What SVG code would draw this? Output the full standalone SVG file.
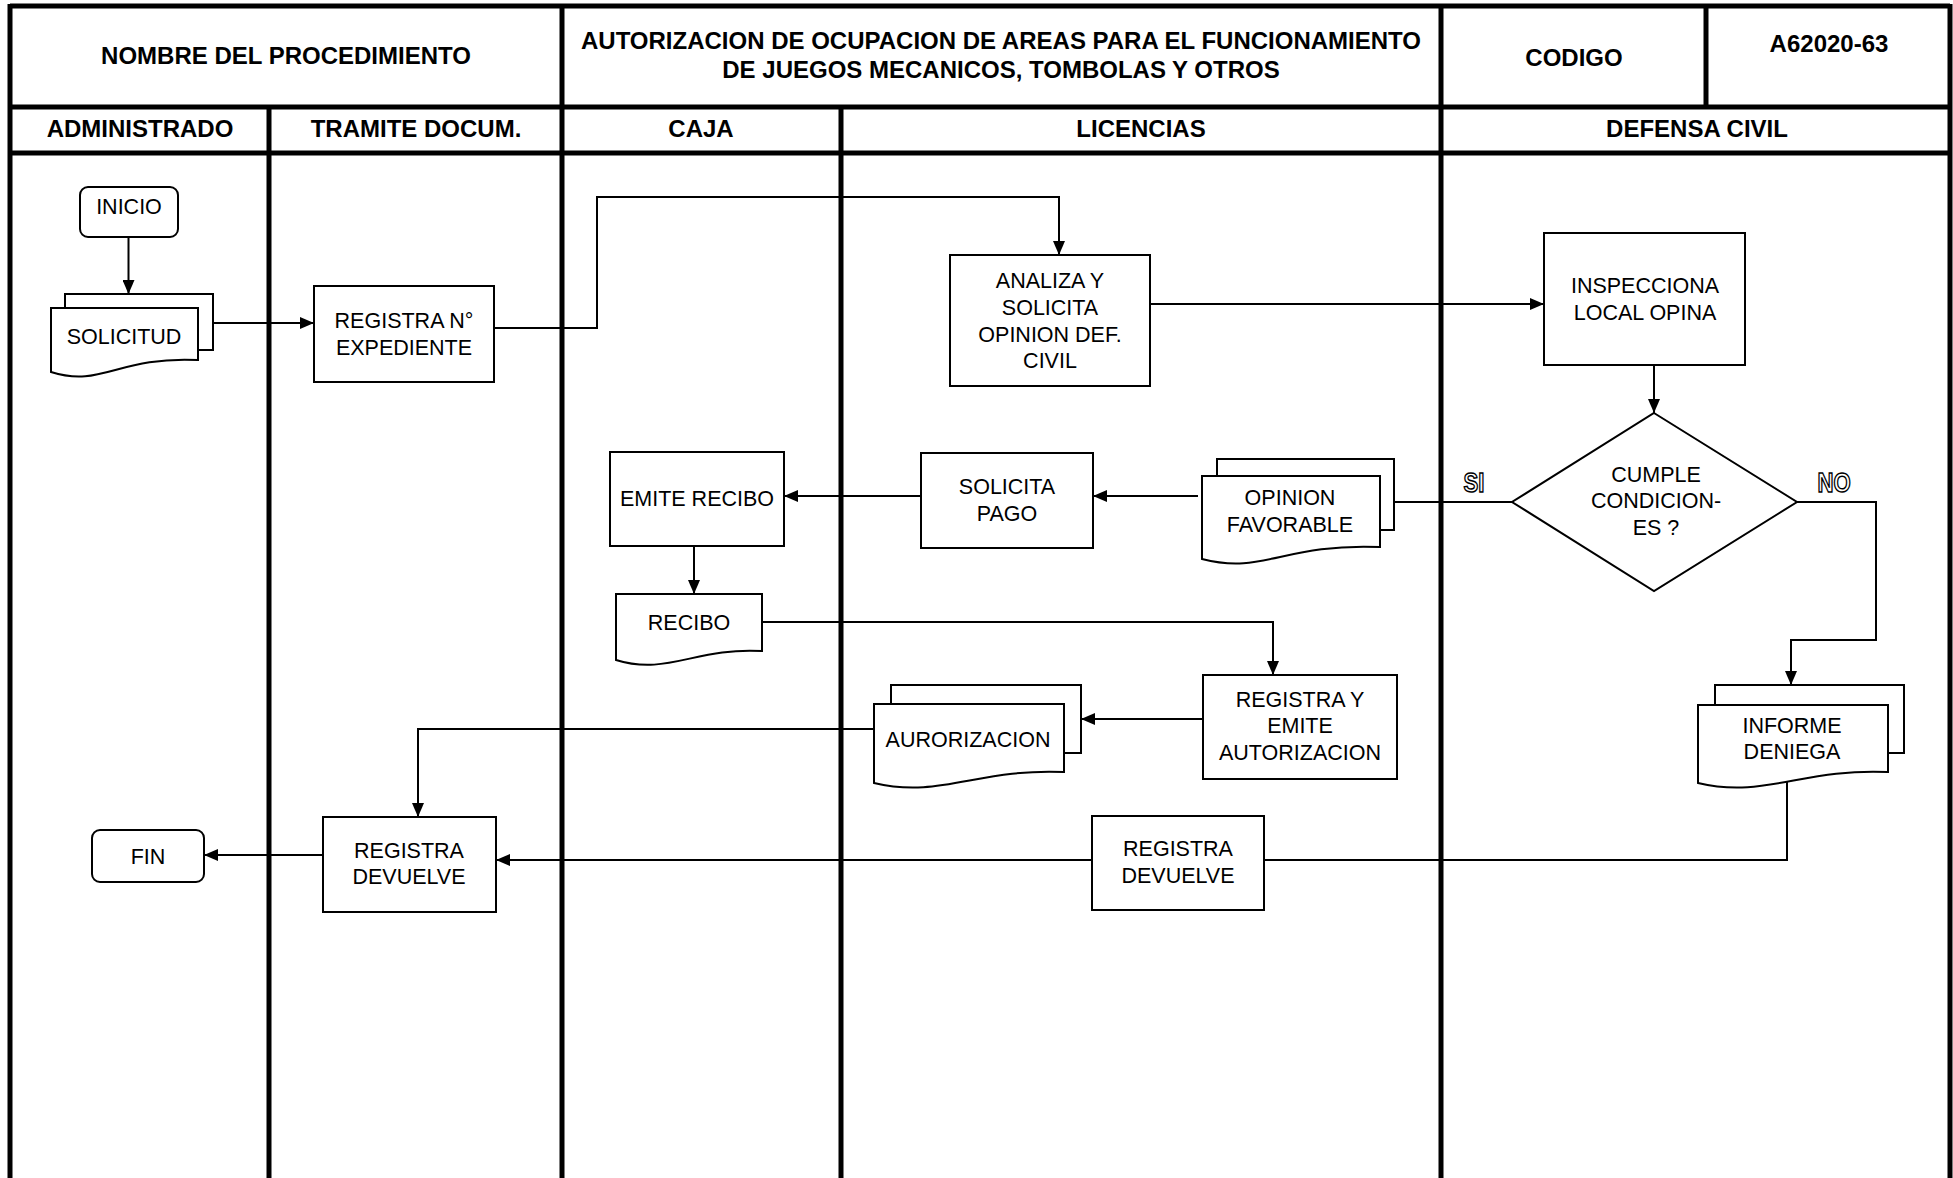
<svg xmlns="http://www.w3.org/2000/svg" width="1953" height="1178" viewBox="0 0 1953 1178">
<style>
.frame{stroke:#000;stroke-width:5;fill:none}
.box{fill:#fff;stroke:#000;stroke-width:2}
.conn{fill:none;stroke:#000;stroke-width:2}
.hd{font-family:"Liberation Sans",Arial,sans-serif;font-weight:bold;font-size:24px;text-anchor:middle;fill:#000}
.t{font-family:"Liberation Sans",Arial,sans-serif;font-size:21.5px;text-anchor:middle;fill:#000}
.lbl{font-family:"Liberation Sans",Arial,sans-serif;font-weight:bold;font-size:27px;text-anchor:middle;fill:#fff;stroke:#000;stroke-width:1.5}
</style>
<defs>
<marker id="arr" markerUnits="userSpaceOnUse" markerWidth="14" markerHeight="12" refX="14" refY="6" orient="auto">
<path d="M0,0 L14,6 L0,12 Z" fill="#000"/>
</marker>
</defs>
<rect width="1953" height="1178" fill="#fff"/>
<g id="frame">
<line class="frame" x1="10" y1="6" x2="1950" y2="6"/>
<line class="frame" x1="10" y1="107" x2="1950" y2="107"/>
<line class="frame" x1="10" y1="153" x2="1950" y2="153"/>
<line class="frame" x1="10" y1="4" x2="10" y2="1178"/>
<line class="frame" x1="1950" y1="4" x2="1950" y2="1178"/>
<line class="frame" x1="562" y1="4" x2="562" y2="1178"/>
<line class="frame" x1="1441" y1="4" x2="1441" y2="1178"/>
<line class="frame" x1="1706" y1="4" x2="1706" y2="107"/>
<line class="frame" x1="269" y1="107" x2="269" y2="1178"/>
<line class="frame" x1="841" y1="107" x2="841" y2="1178"/>
<text class="hd" x="286" y="64">NOMBRE DEL PROCEDIMIENTO</text>
<text class="hd" x="1001" y="49">AUTORIZACION DE OCUPACION DE AREAS PARA EL FUNCIONAMIENTO</text>
<text class="hd" x="1001" y="78">DE JUEGOS MECANICOS, TOMBOLAS Y OTROS</text>
<text class="hd" x="1574" y="66">CODIGO</text>
<text class="hd" x="1829" y="52">A62020-63</text>
<text class="hd" x="140" y="137">ADMINISTRADO</text>
<text class="hd" x="416" y="137">TRAMITE DOCUM.</text>
<text class="hd" x="701" y="137">CAJA</text>
<text class="hd" x="1141" y="137">LICENCIAS</text>
<text class="hd" x="1697" y="137">DEFENSA CIVIL</text>
</g>
<g id="connectors">
<path class="conn" d="M128.5,237 V294" marker-end="url(#arr)"/>
<path class="conn" d="M213,323 H314" marker-end="url(#arr)"/>
<path class="conn" d="M494,328 H597 V197 H1059 V255" marker-end="url(#arr)"/>
<path class="conn" d="M1150,304 H1544" marker-end="url(#arr)"/>
<path class="conn" d="M1654,365 V413" marker-end="url(#arr)"/>
<path class="conn" d="M1512,502 H1394"/>
<path class="conn" d="M1198,496 H1093" marker-end="url(#arr)"/>
<path class="conn" d="M921,496 H784" marker-end="url(#arr)"/>
<path class="conn" d="M694,546 V594" marker-end="url(#arr)"/>
<path class="conn" d="M762,622 H1273 V675" marker-end="url(#arr)"/>
<path class="conn" d="M1203,719 H1081" marker-end="url(#arr)"/>
<path class="conn" d="M874,729 H418 V817" marker-end="url(#arr)"/>
<path class="conn" d="M323,855 H204" marker-end="url(#arr)"/>
<path class="conn" d="M1797,502 H1876 V640 H1791 V685" marker-end="url(#arr)"/>
<path class="conn" d="M1787,780 V860 H1264"/>
<path class="conn" d="M1092,860 H496" marker-end="url(#arr)"/>
<text class="lbl" transform="translate(1474,492) scale(0.82,1)">SI</text>
<text class="lbl" transform="translate(1834,492) scale(0.82,1)">NO</text>
</g>
<g id="inicio">
<rect class="box" x="80" y="187" width="98" height="50" rx="8"/>
<text class="t" x="129" y="214">INICIO</text>
</g>
<g id="solicitud">
<path class="box" d="M65,308 V294 H213 V350 H198"/>
<path class="box" d="M51,308 H198 V360 C117,356 102,388 51,372 Z"/>
<text class="t" x="124" y="344">SOLICITUD</text>
</g>
<g id="registra-expediente">
<rect class="box" x="314" y="286" width="180" height="96"/>
<text class="t" x="404" y="328">REGISTRA N°</text>
<text class="t" x="404" y="355">EXPEDIENTE</text>
</g>
<g id="analiza">
<rect class="box" x="950" y="255" width="200" height="131"/>
<text class="t" x="1050" y="288">ANALIZA Y</text>
<text class="t" x="1050" y="315">SOLICITA</text>
<text class="t" x="1050" y="342">OPINION DEF.</text>
<text class="t" x="1050" y="368">CIVIL</text>
</g>
<g id="inspecciona">
<rect class="box" x="1544" y="233" width="201" height="132"/>
<text class="t" x="1645" y="293">INSPECCIONA</text>
<text class="t" x="1645" y="320">LOCAL OPINA</text>
</g>
<g id="cumple">
<path class="box" d="M1654,413 L1797,502 L1654,591 L1512,502 Z"/>
<text class="t" x="1656" y="482">CUMPLE</text>
<text class="t" x="1656" y="508">CONDICION-</text>
<text class="t" x="1656" y="535">ES ?</text>
</g>
<g id="opinion-favorable">
<path class="box" d="M1217,476 V459 H1394 V530 H1380"/>
<path class="box" d="M1202,476 H1380 V547 C1282,543 1264,575 1202,559 Z"/>
<text class="t" x="1290" y="505">OPINION</text>
<text class="t" x="1290" y="532">FAVORABLE</text>
</g>
<g id="solicita-pago">
<rect class="box" x="921" y="453" width="172" height="95"/>
<text class="t" x="1007" y="494">SOLICITA</text>
<text class="t" x="1007" y="521">PAGO</text>
</g>
<g id="emite-recibo">
<rect class="box" x="610" y="452" width="174" height="94"/>
<text class="t" x="697" y="506">EMITE RECIBO</text>
</g>
<g id="recibo">
<path class="box" d="M616,594 H762 V651 C696,647 667,676 616,660 Z"/>
<text class="t" x="689" y="630">RECIBO</text>
</g>
<g id="registra-emite">
<rect class="box" x="1203" y="675" width="194" height="104"/>
<text class="t" x="1300" y="707">REGISTRA Y</text>
<text class="t" x="1300" y="733">EMITE</text>
<text class="t" x="1300" y="760">AUTORIZACION</text>
</g>
<g id="aurorizacion">
<path class="box" d="M891,704 V685 H1081 V753 H1064"/>
<path class="box" d="M874,704 H1064 V772 C979,768 940,799 874,783 Z"/>
<text class="t" x="968" y="747">AURORIZACION</text>
</g>
<g id="informe-deniega">
<path class="box" d="M1715,705 V685 H1904 V753 H1888"/>
<path class="box" d="M1698,705 H1888 V772 C1803,768 1764,799 1698,783 Z"/>
<text class="t" x="1792" y="733">INFORME</text>
<text class="t" x="1792" y="759">DENIEGA</text>
</g>
<g id="registra-devuelve-lic">
<rect class="box" x="1092" y="816" width="172" height="94"/>
<text class="t" x="1178" y="856">REGISTRA</text>
<text class="t" x="1178" y="883">DEVUELVE</text>
</g>
<g id="registra-devuelve-tram">
<rect class="box" x="323" y="817" width="173" height="95"/>
<text class="t" x="409" y="858">REGISTRA</text>
<text class="t" x="409" y="884">DEVUELVE</text>
</g>
<g id="fin">
<rect class="box" x="92" y="830" width="112" height="52" rx="8"/>
<text class="t" x="148" y="864">FIN</text>
</g>
</svg>
